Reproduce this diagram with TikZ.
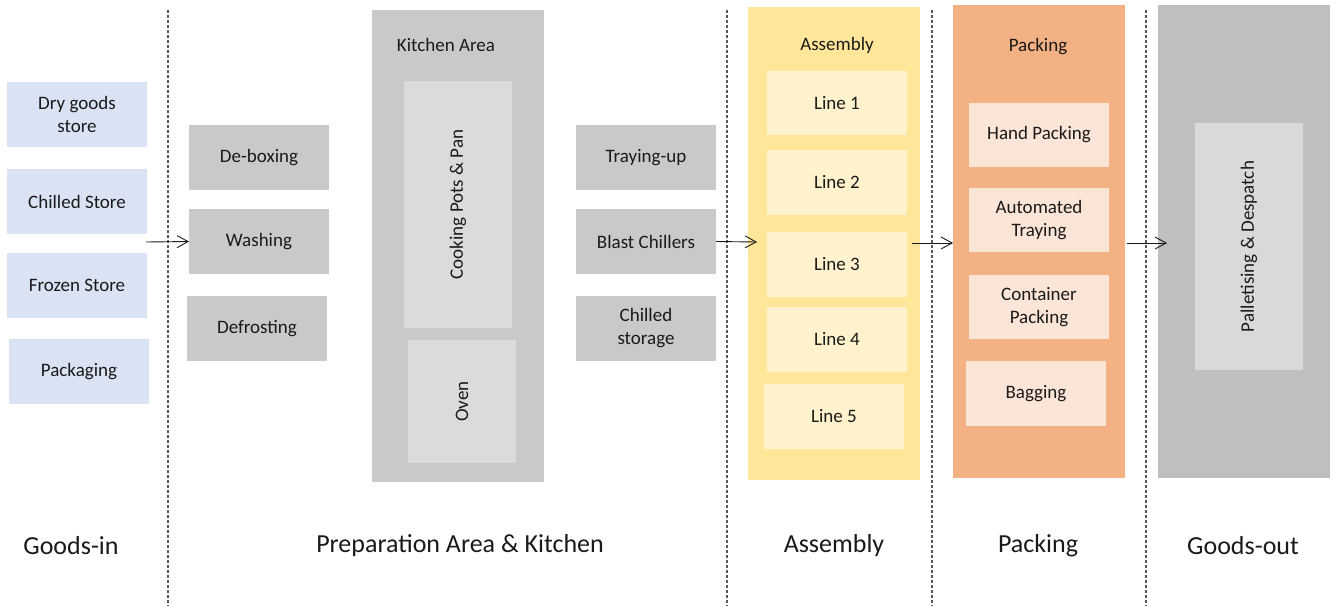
\documentclass[tikz,border=0pt]{standalone}
\usepackage{fontspec}
\setmainfont{Carlito}
\usetikzlibrary{arrows.meta}
\definecolor{goodsin}{HTML}{DAE3F3}
\definecolor{prep}{HTML}{C9C9C9}
\definecolor{prepin}{HTML}{DBDBDB}
\definecolor{asm}{HTML}{FFE699}
\definecolor{asmin}{HTML}{FFF2CC}
\definecolor{pack}{HTML}{F4B183}
\definecolor{packin}{HTML}{FBE5D6}
\definecolor{gout}{HTML}{BFBFBF}
\definecolor{goutin}{HTML}{D9D9D9}
\definecolor{ink}{HTML}{1A1A1A}
\tikzset{
  blk/.style={draw=none, inner sep=0pt, outer sep=0pt, align=center, text=ink,
    font=\fontsize{19}{23}\selectfont},
  wide/.style={blk, minimum width=140pt, minimum height=65pt},
  area/.style={blk, minimum width=172pt, minimum height=473pt},
  title/.style={text=ink, font=\fontsize{19}{23}\selectfont, inner sep=0pt},
  phase/.style={text=ink, font=\fontsize{26}{30}\selectfont, inner sep=0pt},
  divider/.style={draw=black!65, line width=1.1pt, dash pattern=on 3pt off 2pt},
  flow/.style={draw=ink, line width=0.9pt, -{Straight Barb[length=11pt,width=12pt,line width=0.9pt]}}
}
\begin{document}
\begin{tikzpicture}[x=1pt,y=-1pt]
\useasboundingbox (0,0) rectangle (1332,606);

% column dividers
\draw[divider] (168,10) -- (168,606);
\draw[divider] (727,10) -- (727,606);
\draw[divider] (932,10) -- (932,606);
\draw[divider] (1146,10) -- (1146,606);

% goods-in stores
\node[wide, fill=goodsin] (dry) at (77,114.5) {Dry goods\\store};
\node[wide, fill=goodsin] (chilled) at (77,201.5) {Chilled Store};
\node[wide, fill=goodsin] (frozen) at (77,285.5) {Frozen Store};
\node[wide, fill=goodsin] (packaging) at (79,371.5) {Packaging};

% preparation
\node[wide, fill=prep] (debox) at (259,157.5) {De-boxing};
\node[wide, fill=prep] (wash) at (259,241.5) {Washing};
\node[wide, fill=prep] (defrost) at (257,328.5) {Defrosting};

% kitchen area
\node[blk, fill=prep, minimum width=172pt, minimum height=472pt] (kitchen) at (458,246) {};
\node[title] (kitchenlbl) at (446,45) {Kitchen Area};
\node[blk, fill=prepin, rotate=90, minimum width=247pt, minimum height=108pt] (pots) at (458,204.5) {Cooking Pots \& Pan};
\node[blk, fill=prepin, rotate=90, minimum width=123pt, minimum height=108pt] (oven) at (462,401.5) {Oven};

% after cooking
\node[wide, fill=prep] (tray) at (646,157.5) {Traying-up};
\node[wide, fill=prep] (blast) at (646,241.5) {Blast Chillers};
\node[wide, fill=prep] (chstore) at (646,328.5) {Chilled\\storage};

% assembly
\node[area, fill=asm] (assembly) at (834,243.5) {};
\node[title] (assemblylbl) at (837,45) {Assembly};
\node[wide, fill=asmin, minimum height=64pt] (l1) at (837,103) {Line 1};
\node[wide, fill=asmin] (l2) at (837,182.5) {Line 2};
\node[wide, fill=asmin] (l3) at (837,264.5) {Line 3};
\node[wide, fill=asmin] (l4) at (837,339.5) {Line 4};
\node[wide, fill=asmin] (l5) at (834,416.5) {Line 5};

% packing
\node[area, fill=pack] (packing) at (1039,241.5) {};
\node[title] (packinglbl) at (1038,47) {Packing};
\node[wide, fill=packin, minimum height=64pt] (hand) at (1039,135) {Hand Packing};
\node[wide, fill=packin, minimum height=64pt] (auto) at (1039,220) {Automated\\Traying};
\node[wide, fill=packin, minimum height=64pt] (cont) at (1039,307) {Container\\Packing};
\node[wide, fill=packin] (bag) at (1036,393.5) {Bagging};

% goods-out
\node[area, fill=gout] (goodsout) at (1244,241.5) {};
\node[blk, fill=goutin, rotate=90, minimum width=247pt, minimum height=108pt] (pallet) at (1249,246.5) {Palletising \& Despatch};

% flow between the stages
\coordinate (ginout) at (146,242);
\coordinate (asmin) at (757,242);
\coordinate (asmout) at (912,243);
\coordinate (packout) at (1127,243);
\coordinate (goutin) at (1167,243);
\draw[flow] (ginout) -- (wash.west);
\draw[flow] (blast.east) -- (asmin);
\draw[flow] (asmout) -- (packing.west |- asmout);
\draw[flow] (packout) -- (goutin);

% stage names
\node[phase] (ph1) at (71,546) {Goods-in};
\node[phase] (ph2) at (460,546) {Preparation Area \& Kitchen};
\node[phase] (ph3) at (834,546) {Assembly};
\node[phase] (ph4) at (1038,546) {Packing};
\node[phase] (ph5) at (1243,546) {Goods-out};
\end{tikzpicture}
\end{document}
